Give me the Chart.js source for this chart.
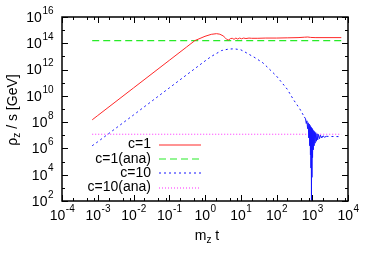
<!DOCTYPE html>
<html>
<head>
<meta charset="utf-8">
<script src="https://cdn.jsdelivr.net/npm/chart.js@4.4.1/dist/chart.umd.min.js"></script>
<style>
  body { margin: 0; background: #fff; }
</style>
</head>
<body>
<canvas id="rhoChart" width="375" height="263"></canvas>
<script>
// series names
const seriesNames = ['c=1', 'c=1(ana)', 'c=10', 'c=10(ana)'];

// c=1 numerical
const tRed = [7e-4, 1e-3, 1e-2, 0.1, 0.3, 0.52, 1.0, 1.5, 2.1, 2.6, 3.2, 3.7, 4.1, 4.6,
  5.2, 5.8, 6.5, 7.3, 8.2, 9.3, 10.5, 12, 14, 17, 20, 30, 50, 100, 200, 400, 600, 750, 900, 1200, 2000, 6500];
const red = [1.5e8, 3.2e8, 4e10, 5e12, 5e13, 1.6e14, 3.4e14, 4.8e14, 5.4e14, 4.9e14, 3.7e14, 2.6e14, 1.9e14, 1.8e14,
  2.3e14, 2.4e14, 2.0e14, 2.5e14, 2.1e14, 2.5e14, 2.2e14, 2.5e14, 2.3e14, 2.5e14, 2.4e14, 2.4e14, 2.5e14, 2.5e14,
  2.6e14, 2.7e14, 2.9e14, 3.0e14, 2.8e14, 2.7e14, 2.7e14, 2.7e14];

// c=10 numerical
const tBlue = [7e-4, 1e-3, 1e-2, 0.1, 1, 1.5, 2.9, 4.5, 6.5, 10, 13, 25, 42, 100, 200, 300, 450, 600,
  650, 680, 710, 740, 770, 800, 825, 850, 870, 890, 905, 920, 935, 950, 965, 980, 1000, 1020, 1045, 1070,
  1100, 1130, 1165, 1200, 1250, 1300, 1360, 1420, 1500, 1600, 1700, 1850, 2000, 2200, 2500, 5900];
const blue = [1.6e6, 3.2e6, 3.5e8, 4e10, 4.5e12, 1e13, 2.8e13, 3.6e13, 3.8e13, 3.2e13, 2.2e13, 8e12, 3.2e12,
  3.2e11, 3.2e10, 5e9, 1e9, 2.5e8,
  1.8e8, 7.9e7, 1.26e8, 3.2e7, 8.9e7, 6.3e6, 7.1e7, 1.6e6, 5.6e7, 3.2e5, 4.5e7, 3.2e4, 4e7, 1.1e2, 3.5e7,
  6.3e3, 3.2e7, 2e5, 2.6e7, 7.9e5, 2.2e7, 1.6e6, 1.9e7, 2.5e6, 1.6e7, 3.5e6, 1.3e7, 4.5e6, 1.15e7, 5.5e6,
  1e7, 6.3e6, 9.1e6, 7.2e6, 8.3e6, 7.9e6];

// analytic plateaus
const tAna = [7e-4, 6500];
const ana1 = [1.6e14, 1.6e14];
const ana10 = [1.2e7, 1.2e7];

// axis decades
const xDecades = [-4, -3, -2, -1, 0, 1, 2, 3, 4];
const yDecades = [2, 3, 4, 5, 6, 7, 8, 9, 10, 11, 12, 13, 14, 15, 16];

const colors = ['rgb(255,40,40)', 'rgb(40,235,40)', 'rgb(20,20,255)', 'rgb(255,40,255)'];
const dashes = [[], [7, 4], [2, 3], [1, 2]];
const widths = [1, 1.2, 1, 1];

const FONT = "'Liberation Sans', Arial, Helvetica, sans-serif";

function pts(xs, ys) {
  return xs.map((x, i) => ({ x: x, y: ys[i] }));
}

// text with superscript, e.g. 10^-3
function powWidth(ctx, exp) {
  ctx.font = '14px ' + FONT;
  const w1 = ctx.measureText('10').width;
  ctx.font = '10px ' + FONT;
  const w2 = ctx.measureText(exp).width;
  return [w1, w2];
}
function drawPow(ctx, exp, left, midY) {
  const [w1] = powWidth(ctx, exp);
  ctx.textAlign = 'left';
  ctx.textBaseline = 'middle';
  ctx.font = '14px ' + FONT;
  ctx.fillText('10', left, midY);
  ctx.font = '10px ' + FONT;
  ctx.fillText(exp, left + w1 + 0.5, midY - 7);
}

const gnuFrame = {
  id: 'gnuFrame',
  afterDraw(chart) {
    const { ctx, chartArea: a, scales } = chart;
    const xs = scales.x, ys = scales.y;
    ctx.save();
    ctx.strokeStyle = '#000';
    ctx.fillStyle = '#000';
    ctx.lineWidth = 1.5;
    ctx.strokeRect(a.left, a.top, a.right - a.left, a.bottom - a.top);

    ctx.lineWidth = 1;
    ctx.beginPath();
    // x ticks (major at decades, minor at 2,5,8)
    xDecades.forEach(d => {
      const px = Math.round(xs.getPixelForValue(Math.pow(10, d))) + 0.5;
      ctx.moveTo(px, a.bottom); ctx.lineTo(px, a.bottom - 6);
      ctx.moveTo(px, a.top); ctx.lineTo(px, a.top + 6);
      if (d < 4) {
        [2, 5, 8].forEach(m => {
          const mx = Math.round(xs.getPixelForValue(m * Math.pow(10, d))) + 0.5;
          ctx.moveTo(mx, a.bottom); ctx.lineTo(mx, a.bottom - 3);
          ctx.moveTo(mx, a.top); ctx.lineTo(mx, a.top + 3);
        });
      }
    });
    // y ticks
    yDecades.forEach(d => {
      const py = Math.round(ys.getPixelForValue(Math.pow(10, d))) + 0.5;
      const len = d % 2 === 0 ? 6 : 3;
      ctx.moveTo(a.left, py); ctx.lineTo(a.left + len, py);
      ctx.moveTo(a.right, py); ctx.lineTo(a.right - len, py);
    });
    ctx.stroke();

    // x tick labels
    xDecades.forEach(d => {
      const exp = String(d);
      const [w1, w2] = powWidth(ctx, exp);
      const px = xs.getPixelForValue(Math.pow(10, d));
      drawPow(ctx, exp, px - (w1 + w2) / 2, a.bottom + 15);
    });
    // y tick labels (even decades)
    yDecades.filter(d => d % 2 === 0).forEach(d => {
      const exp = String(d);
      const [w1, w2] = powWidth(ctx, exp);
      const py = ys.getPixelForValue(Math.pow(10, d));
      drawPow(ctx, exp, a.left - 9 - (w1 + w2), py + 1);
    });

    // x title: m_z t
    ctx.textBaseline = 'middle';
    ctx.textAlign = 'left';
    ctx.font = '14px ' + FONT;
    const mW = ctx.measureText('m').width;
    const tW = ctx.measureText(' t').width;
    ctx.font = '10px ' + FONT;
    const zW = ctx.measureText('z').width;
    let x0 = (a.left + a.right) / 2 + 2 - (mW + zW + tW) / 2;
    const yT = 236;
    ctx.font = '14px ' + FONT;
    ctx.fillText('m', x0, yT);
    ctx.font = '10px ' + FONT;
    ctx.fillText('z', x0 + mW, yT + 4);
    ctx.font = '14px ' + FONT;
    ctx.fillText(' t', x0 + mW + zW, yT);

    // y title: rho_z / s [GeV]
    ctx.save();
    ctx.translate(13, (a.top + a.bottom) / 2 + 1);
    ctx.rotate(-Math.PI / 2);
    ctx.font = '14px ' + FONT;
    const rW = ctx.measureText('\u03c1').width;
    const restW = ctx.measureText(' / s [GeV]').width;
    ctx.font = '10px ' + FONT;
    const z2W = ctx.measureText('z').width;
    x0 = -(rW + z2W + restW) / 2;
    ctx.font = '14px ' + FONT;
    ctx.fillText('\u03c1', x0, 0);
    ctx.font = '10px ' + FONT;
    ctx.fillText('z', x0 + rW, 4);
    ctx.font = '14px ' + FONT;
    ctx.fillText(' / s [GeV]', x0 + rW + z2W, 0);
    ctx.restore();

    // legend inside plot (line samples straddle two pixel rows, like the original)
    const rows = [144.5, 159, 173, 187.5];
    seriesNames.forEach((name, i) => {
      const ry = rows[i];
      ctx.font = '14px ' + FONT;
      ctx.textAlign = 'right';
      ctx.textBaseline = 'middle';
      ctx.fillStyle = '#000';
      ctx.fillText(name, 151, ry);
      ctx.strokeStyle = colors[i];
      ctx.lineWidth = 1.1;
      ctx.setLineDash(dashes[i]);
      ctx.beginPath();
      ctx.moveTo(159, Math.round(ry));
      ctx.lineTo(201, Math.round(ry));
      ctx.stroke();
      ctx.setLineDash([]);
    });
    ctx.restore();
  }
};

const chart = new Chart(document.getElementById('rhoChart'), {
  type: 'line',
  data: {
    datasets: [
      {
        label: seriesNames[0],
        data: pts(tRed, red),
        borderColor: colors[0],
        borderWidth: widths[0]
      },
      {
        label: seriesNames[1],
        data: pts(tAna, ana1),
        borderColor: colors[1],
        borderWidth: widths[1],
        borderDash: dashes[1]
      },
      {
        label: seriesNames[2],
        data: pts(tBlue, blue),
        borderColor: colors[2],
        borderWidth: widths[2],
        borderDash: dashes[2],
        segment: {
          borderDash: ctx => (ctx.p0.parsed.x >= 600 && ctx.p1.parsed.x <= 2500) ? [] : dashes[2]
        }
      },
      {
        label: seriesNames[3],
        data: pts(tAna, ana10),
        borderColor: colors[3],
        borderWidth: widths[3],
        borderDash: dashes[3]
      }
    ]
  },
  options: {
    responsive: false,
    animation: false,
    events: [],
    layout: { padding: { left: 62, right: 27, top: 17, bottom: 62 } },
    elements: { point: { radius: 0 }, line: { tension: 0 } },
    plugins: { legend: { display: false }, tooltip: { enabled: false } },
    scales: {
      x: {
        type: 'logarithmic', min: 1e-4, max: 1e4,
        ticks: { display: false },
        grid: { display: false, drawTicks: false },
        border: { display: false }
      },
      y: {
        type: 'logarithmic', min: 1e2, max: 1e16,
        ticks: { display: false },
        grid: { display: false, drawTicks: false },
        border: { display: false }
      }
    }
  },
  plugins: [gnuFrame]
});
</script>
</body>
</html>
